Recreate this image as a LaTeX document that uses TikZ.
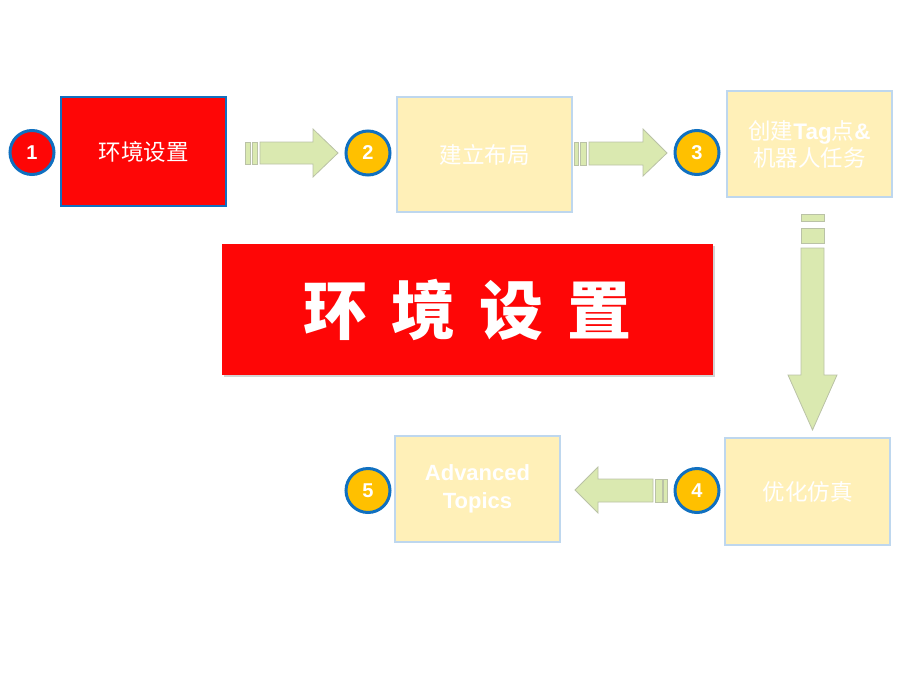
\documentclass[tikz,border=0pt]{standalone}
\usepackage{fontspec}
\usepackage{tikz}
\usetikzlibrary{shadows}
\setmainfont{Liberation Sans}
\newfontfamily\cjk{Noto Sans CJK SC}
\definecolor{stepred}{RGB}{254,6,6}
\definecolor{ringblue}{RGB}{16,112,192}
\definecolor{gold}{RGB}{255,192,0}
\definecolor{paleyellow}{RGB}{255,240,184}
\definecolor{paleblue}{RGB}{190,215,238}
\definecolor{arrowgreen}{RGB}{218,233,176}
\definecolor{arrowline}{RGB}{186,194,166}

\begin{document}
\begin{tikzpicture}[x=1pt,y=-1pt,
    numnode/.style={draw=ringblue,line width=3pt,circle,inner sep=0pt,fill=gold,minimum size=44pt,text=white,font=\fontsize{20}{20}\selectfont\bfseries},
    redbox/.style={draw=ringblue,line width=2pt,fill=stepred,inner sep=0pt,text=white,font=\fontsize{22.5}{26}\selectfont\cjk},
    palebox/.style={draw=paleblue,line width=2pt,fill=paleyellow,inner sep=0pt,text=white,align=center,font=\fontsize{22.5}{27}\selectfont\cjk},
    blockarrow/.style={draw=arrowline,line width=0.8pt,fill=arrowgreen,line join=miter}]
        \useasboundingbox (0,0) rectangle (920,690);

        % boxes
        \node[redbox,minimum width=165pt,minimum height=109pt] (b1) at (143.5,151.5) {环境设置};
        \node[palebox,minimum width=175pt,minimum height=115pt] (b2) at (484.5,154.5) {建立布局};
        \node[palebox,minimum width=165pt,minimum height=106pt] (b3) at (809.5,144) {创建{\rmfamily\bfseries Tag}点{\rmfamily\bfseries\&}\\机器人任务};
        \node[palebox,minimum width=165pt,minimum height=107pt] (b4) at (807.5,491.5) {优化仿真};
        \node[palebox,minimum width=165pt,minimum height=106pt,font=\fontsize{22}{28}\selectfont\bfseries] (b5) at (477.5,489) {Advanced\\Topics};

        % numbers
        \node[numnode,fill=stepred] (n1) at (32,152.5) {1};
        \node[numnode] (n2) at (368,153) {2};
        \node[numnode] (n3) at (697,152.5) {3};
        \node[numnode] (n4) at (697,490.5) {4};
        \node[numnode] (n5) at (368,490.5) {5};

        % title
        \node[fill=stepred,inner sep=0pt,minimum width=491pt,minimum height=131pt,text=white,
              drop shadow={shadow xshift=1.5pt,shadow yshift=-2pt,opacity=0.35},
              font=\fontsize{64}{64}\selectfont\cjk\bfseries] (title) at (467.5,309.5)
              {环\hspace{24pt}境\hspace{24pt}设\hspace{24pt}置};

        % block arrows
        \filldraw[blockarrow] (245,142) rectangle (250,164) (252,142) rectangle (257,164);
        \filldraw[blockarrow] (260,142) -- (313,142) -- (313,129) -- (338,153) -- (313,177) -- (313,164) -- (260,164) -- cycle;
        \filldraw[blockarrow] (574,142) rectangle (578,165) (580,142) rectangle (586,165);
        \filldraw[blockarrow] (589,142) -- (643,142) -- (643,129) -- (667,153) -- (643,176) -- (643,165) -- (589,165) -- cycle;
        \filldraw[blockarrow] (801,214) rectangle (824,221) (801,228) rectangle (824,243);
        \filldraw[blockarrow] (801,248) -- (801,375) -- (788,375) -- (812.5,430) -- (837,375) -- (824,375) -- (824,248) -- cycle;
        \filldraw[blockarrow] (667,479) rectangle (663,502) (662,479) rectangle (655,502);
        \filldraw[blockarrow] (653,479) -- (598,479) -- (598,467) -- (575,490) -- (598,513) -- (598,502) -- (653,502) -- cycle;
    \end{tikzpicture}
\end{document}
